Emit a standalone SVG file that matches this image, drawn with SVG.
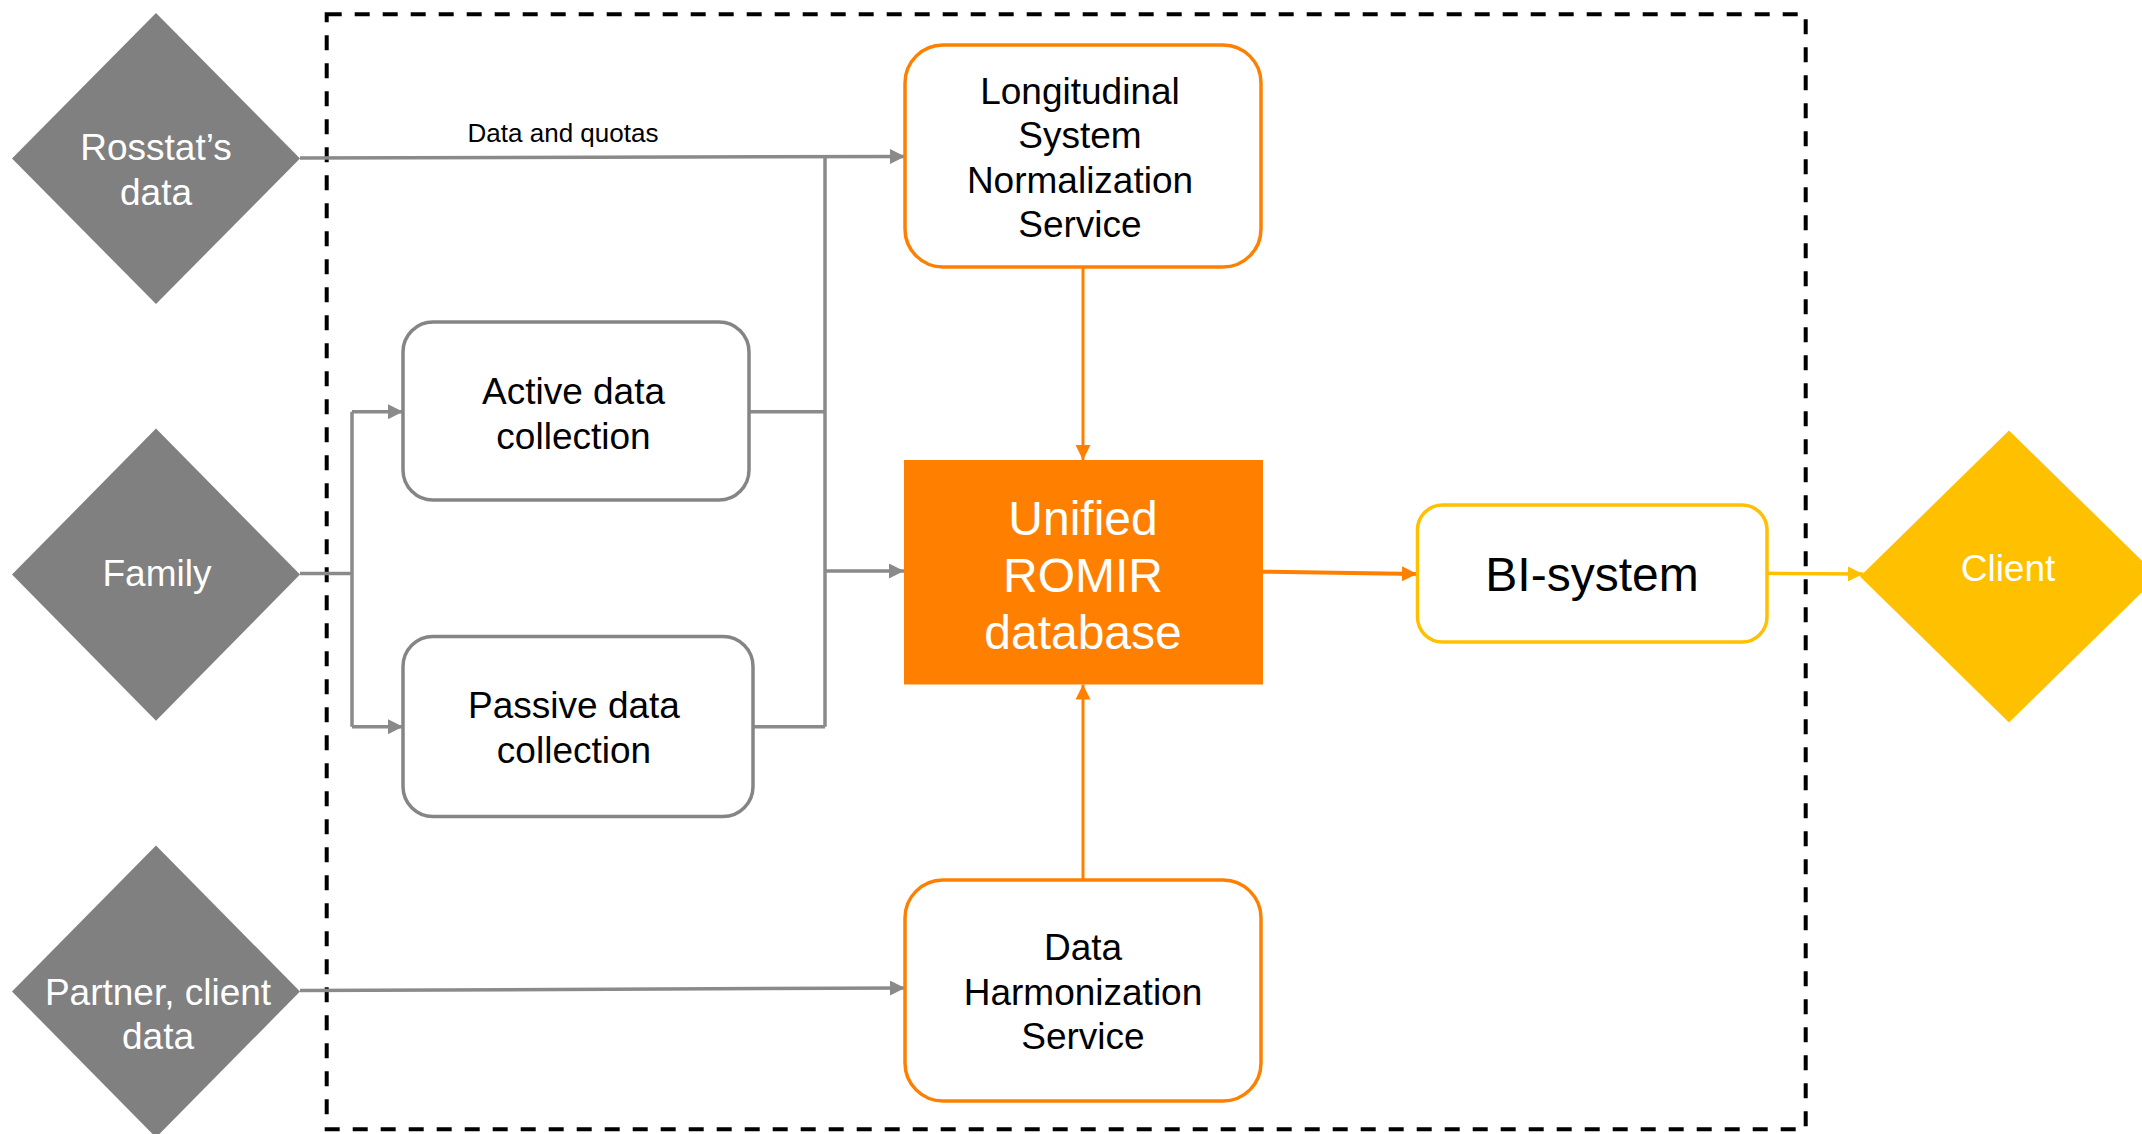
<svg xmlns="http://www.w3.org/2000/svg" width="2142" height="1134" viewBox="0 0 2142 1134">
<defs>
<style>
.t{font-family:"Liberation Sans",Arial,sans-serif;text-anchor:middle}
.w{fill:#ffffff;font-size:37px}
.b{fill:#000000;font-size:37px}
.big{font-size:48px}
.dia{fill:#808080}
.gbox{fill:#ffffff;stroke:#858585;stroke-width:3.5}
.obox{fill:#ffffff;stroke:#FF8000;stroke-width:3.5}
.ybox{fill:#ffffff;stroke:#FFC000;stroke-width:3.5}
.g{fill:none;stroke:#8a8a8a;stroke-width:3.5}
.o{fill:none;stroke:#FF8000;stroke-width:3}
.y{fill:none;stroke:#FFC000;stroke-width:3.5}
</style>
<marker id="ag" markerUnits="userSpaceOnUse" markerWidth="15" markerHeight="15" refX="15" refY="7.5" orient="auto"><path d="M0,0 L15,7.5 L0,15 z" fill="#8a8a8a"/></marker>
<marker id="ao" markerUnits="userSpaceOnUse" markerWidth="15" markerHeight="15" refX="15" refY="7.5" orient="auto"><path d="M0,0 L15,7.5 L0,15 z" fill="#FF8000"/></marker>
<marker id="ay" markerUnits="userSpaceOnUse" markerWidth="15" markerHeight="15" refX="15" refY="7.5" orient="auto"><path d="M0,0 L15,7.5 L0,15 z" fill="#FFC000"/></marker>
</defs>
<rect id="boundary" x="326.7" y="14.3" width="1479" height="1115" fill="none" stroke="#000000" stroke-width="4" stroke-dasharray="15 13"/>
<g id="connectors">
<path class="g" d="M300,158 L905,156.5" marker-end="url(#ag)"/>
<path class="g" d="M825,157 L825,726.7"/>
<path class="g" d="M745,411.7 L825,411.7"/>
<path class="g" d="M753,726.7 L825,726.7"/>
<path class="g" d="M825,571 L904,571" marker-end="url(#ag)"/>
<path class="g" d="M300,573.5 L352,573.5"/>
<path class="g" d="M352,411.7 L352,726.7"/>
<path class="g" d="M352,411.7 L403,411.7" marker-end="url(#ag)"/>
<path class="g" d="M352,726.7 L403,726.7" marker-end="url(#ag)"/>
<path class="g" d="M300,990.5 L905,988" marker-end="url(#ag)"/>
<path class="o" d="M1083,267 L1083,460" marker-end="url(#ao)"/>
<path class="o" d="M1083,880 L1083,684.5" marker-end="url(#ao)"/>
<path class="o" style="stroke-width:4" d="M1263,571.7 L1417,574" marker-end="url(#ao)"/>
<path class="y" d="M1767,573.3 L1863,574" marker-end="url(#ay)"/>
<text class="t" x="563" y="142" style="font-size:26px;fill:#000">Data and quotas</text>
</g>
<g id="rosstat">
<polygon class="dia" points="156,13 300,158.5 156,304 12,158.5"/>
<text class="t w"><tspan x="156" y="160">Rosstat’s</tspan><tspan x="156" y="205">data</tspan></text>
</g>
<g id="family">
<polygon class="dia" points="156,428.6 300,574.6 156,720.7 12,574.6"/>
<text class="t w" x="157" y="586">Family</text>
</g>
<g id="partner">
<polygon class="dia" points="156,845.5 300,991.5 156,1137.5 12,991.5"/>
<text class="t w"><tspan x="158" y="1005">Partner, client</tspan><tspan x="158" y="1048.5">data</tspan></text>
</g>
<g id="client">
<polygon points="2009,430.4 2158,576.5 2009,722.5 1860,576.5" fill="#FFC000"/>
<text class="t w" x="2008" y="581">Client</text>
</g>
<g id="longitudinal">
<rect class="obox" x="905" y="45" width="356" height="222" rx="38"/>
<text class="t b"><tspan x="1080" y="103.5">Longitudinal</tspan><tspan x="1080" y="148">System</tspan><tspan x="1080" y="192.5">Normalization</tspan><tspan x="1080" y="237">Service</tspan></text>
</g>
<g id="active">
<rect class="gbox" x="403" y="322" width="346" height="178" rx="30"/>
<text class="t b"><tspan x="573.5" y="404">Active data</tspan><tspan x="573.5" y="449">collection</tspan></text>
</g>
<g id="passive">
<rect class="gbox" x="403" y="636.5" width="350" height="180" rx="30"/>
<text class="t b"><tspan x="574" y="718">Passive data</tspan><tspan x="574" y="763">collection</tspan></text>
</g>
<g id="unified">
<rect x="904" y="460" width="359" height="224.5" fill="#FF8000"/>
<text class="t w big"><tspan x="1083" y="535">Unified</tspan><tspan x="1083" y="592">ROMIR</tspan><tspan x="1083" y="649">database</tspan></text>
</g>
<g id="harmonization">
<rect class="obox" x="905" y="880" width="356" height="221" rx="38"/>
<text class="t b"><tspan x="1083" y="959.5">Data</tspan><tspan x="1083" y="1005">Harmonization</tspan><tspan x="1083" y="1049">Service</tspan></text>
</g>
<g id="bi">
<rect class="ybox" x="1417.5" y="505" width="349.5" height="137" rx="25"/>
<text class="t b big" x="1592" y="591">BI-system</text>
</g>
</svg>
